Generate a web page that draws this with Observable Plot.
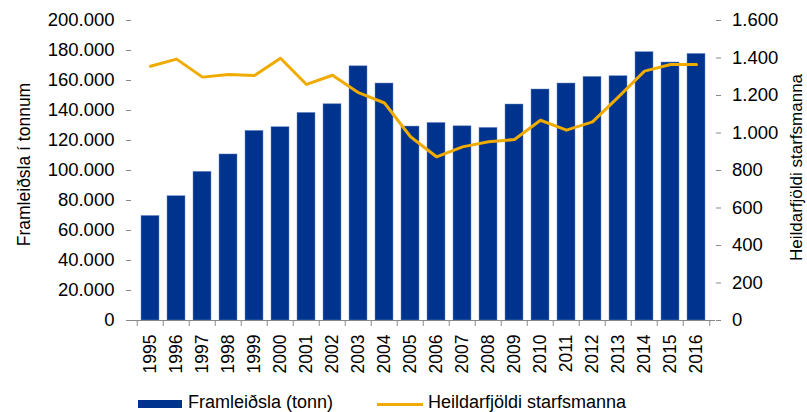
<!DOCTYPE html>
<html><head><meta charset="utf-8">
<script src="https://cdn.jsdelivr.net/npm/d3@7"></script>
<script src="https://cdn.jsdelivr.net/npm/@observablehq/plot@0.6"></script>
<style>
body{margin:0;background:#fff;font-family:"Liberation Sans",Arial,sans-serif;overflow:hidden;}
#wrap{position:relative;width:807px;height:412px;}
#legend{position:absolute;left:0;top:393px;width:807px;height:19px;font-size:18px;color:#000;}
.sw{position:absolute;}
.lt{position:absolute;top:0;line-height:19px;height:19px;white-space:nowrap;}
</style></head><body>
<div id="wrap"><div id="chart"></div>
<div id="legend">
  <div class="sw" style="left:138px;top:7px;width:44px;height:8px;background:#00338D;"></div>
  <div class="lt" style="left:188px;">Framleiðsla (tonn)</div>
  <div class="sw" style="left:377px;top:9.5px;width:46px;height:3px;background:#F0AB00;"></div>
  <div class="lt" style="left:428px;">Heildarfjöldi starfsmanna</div>
</div></div>
<script>
const years = ["1995","1996","1997","1998","1999","2000","2001","2002","2003","2004","2005","2006","2007","2008","2009","2010","2011","2012","2013","2014","2015","2016"];
const production = [69700,82900,99100,110700,126400,128900,138400,144200,169500,158000,129300,131700,129500,128400,144000,154000,158000,162400,162900,178900,172000,177700];
const staff = [1356,1394,1298,1312,1307,1399,1259,1308,1215,1160,980,873,926,953,965,1068,1015,1059,1193,1330,1365,1365];
const leftTicks = [0,20000,40000,60000,80000,100000,120000,140000,160000,180000,200000];
const rightTicks = [0,200,400,600,800,1000,1200,1400,1600];
const leftTitle = "Framleiðsla í tonnum";
const rightTitle = "Heildarfjöldi starfsmanna";

const ratio = 200000 / 1600;
const fmt = d3.formatLocale({decimal:",", thousands:".", grouping:[3], currency:["",""]}).format(",");
const data = years.map((y,i)=>({year:y, prod:production[i], staff:staff[i]}));

const W = 807, H = 382, mL = 131, mR = 92, mT = 20, mB = 62;
const step = (W - mL - mR) / years.length;

const chart = Plot.plot({
  width: W, height: H,
  marginLeft: mL, marginRight: mR, marginTop: mT, marginBottom: mB,
  style: {fontFamily: '"Liberation Sans", Arial, sans-serif', color: "#000", background: "#fff"},
  x: {domain: years, paddingInner: 0.32, paddingOuter: 0.16, label: null},
  y: {domain: [0, 200000], label: null},
  marks: [
    Plot.barY(data, {x: "year", y: "prod", fill: "#00338D", stroke: "#6f8fc8", strokeWidth: 0.8, strokeOpacity: 0.6}),
    Plot.line(data, {x: "year", y: d => d.staff * ratio, stroke: "#F0AB00", strokeWidth: 3}),
    Plot.ruleY([0], {stroke: "#888", strokeWidth: 1}),
    Plot.axisY(leftTicks, {anchor: "left", tickSize: 5, tickPadding: 12, tickFormat: fmt, fontSize: 18.5, stroke: "#888", fill: "#000", label: null, line: true}),
    Plot.axisY(rightTicks.map(v => v * ratio), {anchor: "right", tickSize: 5, tickPadding: 11.5, tickFormat: d => fmt(Math.round(d / ratio)), fontSize: 18.5, stroke: "#888", fill: "#000", label: null, line: true}),
    Plot.axisX({tickSize: 0, tickPadding: 14, tickRotate: -90, fontSize: 17.5, fill: "#000", label: null}),
    Plot.axisX({tickSize: 6, tickFormat: () => "", dx: -step / 2, stroke: "#888", label: null}),
    Plot.axisX([years[years.length - 1]], {tickSize: 6, tickFormat: () => "", dx: step / 2, stroke: "#888", label: null}),
    Plot.text([leftTitle], {frameAnchor: "left", rotate: -90, textAnchor: "middle", dx: 24 - mL, dy: -6, fontSize: 17.5, fill: "#000"}),
    Plot.text([rightTitle], {frameAnchor: "right", rotate: -90, textAnchor: "middle", dx: 81, dy: -3, fontSize: 17, fill: "#000"})
  ]
});
document.getElementById("chart").appendChild(chart);
</script>
</body></html>
